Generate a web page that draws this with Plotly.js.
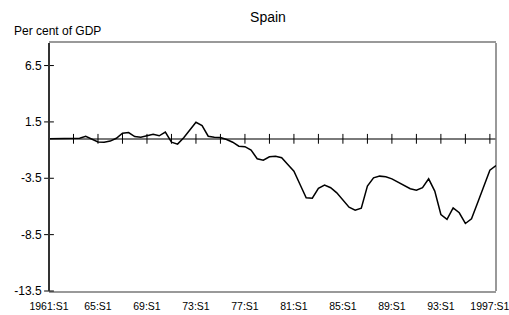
<!DOCTYPE html>
<html>
<head>
<meta charset="utf-8">
<script src="https://cdn.plot.ly/plotly-3.0.1.min.js"></script>
<style>html,body{margin:0;padding:0;background:#fff;}#chart{width:509px;height:315px;}</style>
</head>
<body>
<div id="chart"></div>
<script>
// Half-year periods 1961:S1 .. 1997:S2 (index 0..73)
const periodIndex = Array.from({length: 74}, (_, i) => i);
const balance = [
  0, 0, 0, 0, 0, 0.05, 0.23, 0.0, -0.28, -0.3,
  -0.2, 0.05, 0.5, 0.55, 0.2, 0.15, 0.27, 0.4, 0.27, 0.6,
  -0.3, -0.47, 0.1, 0.8, 1.47, 1.18, 0.23, 0.15, 0.12, -0.06,
  -0.3, -0.65, -0.7, -1.0, -1.77, -1.9, -1.6, -1.54, -1.68, -2.28,
  -2.87, -4.05, -5.23, -5.27, -4.4, -4.11, -4.34, -4.79, -5.38, -6.06,
  -6.33, -6.15, -4.2, -3.46, -3.31, -3.37, -3.55, -3.85, -4.14, -4.43,
  -4.56, -4.34, -3.55, -4.64, -6.71, -7.15, -6.12, -6.56, -7.51, -7.09,
  -5.67, -4.2, -2.78, -2.37
];
const labelIndex = [0, 8, 16, 24, 32, 40, 48, 56, 64, 72];
const labelText = ["1961:S1", "65:S1", "69:S1", "73:S1", "77:S1", "81:S1", "85:S1", "89:S1", "93:S1", "1997:S1"];
const tickIndex = [0, 4, 8, 12, 16, 20, 24, 28, 32, 36, 40, 44, 48, 52, 56, 60, 64, 68, 72];
const yTicks = [6.5, 1.5, -3.5, -8.5, -13.5];
const yRange = [-13.5, 8.5];
const xRange = [0, 73];

const font = 'Arial, "Liberation Sans", sans-serif';

const traces = [
  // tick marks crossing the zero line (category ticks)
  {x: tickIndex, y: tickIndex.map(() => 0), type: 'scatter', mode: 'markers', cliponaxis: false,
   marker: {symbol: 'line-ns', size: 7, color: '#000000', line: {color: '#000000', width: 1}},
   hoverinfo: 'skip', showlegend: false},
  // tick marks crossing the value axis
  {x: yTicks.map(() => xRange[0]), y: yTicks, type: 'scatter', mode: 'markers', cliponaxis: false,
   marker: {symbol: 'line-ew', size: 7, color: '#000000', line: {color: '#000000', width: 1}},
   hoverinfo: 'skip', showlegend: false},
  {x: periodIndex, y: balance, type: 'scatter', mode: 'lines', cliponaxis: false,
   line: {color: '#000000', width: 1.5}, hoverinfo: 'skip', showlegend: false}
];

const layout = {
  width: 509, height: 315,
  margin: {l: 49, r: 13, t: 43, b: 24, pad: 0},
  paper_bgcolor: '#ffffff', plot_bgcolor: '#ffffff',
  font: {family: font, color: '#000000'},
  title: {text: 'Spain', font: {family: font, size: 14, color: '#000000'},
          x: 268/509, xanchor: 'center', xref: 'container', y: 1 - 17/315, yanchor: 'middle', yref: 'container'},
  xaxis: {range: xRange, showgrid: false, zeroline: false,
          tickmode: 'array', tickvals: labelIndex, ticktext: labelText,
          ticks: 'outside', ticklen: 4, tickcolor: 'rgba(0,0,0,0)',
          ticklabeloverflow: 'allow',
          tickfont: {family: font, size: 10.5, color: '#000000'},
          showline: true, linecolor: '#999999', linewidth: 2, mirror: true, layer: 'below traces'},
  yaxis: {range: yRange, showgrid: false,
          zeroline: true, zerolinecolor: '#7a7a7a', zerolinewidth: 2,
          tickmode: 'array', tickvals: yTicks, ticktext: yTicks.map(v => v.toFixed(1)),
          ticks: 'outside', ticklen: 4, tickcolor: 'rgba(0,0,0,0)',
          tickfont: {family: font, size: 12, color: '#000000'},
          showline: false},
  shapes: [
    {type: 'line', xref: 'paper', yref: 'paper', x0: 1, x1: 1, y0: 0, y1: 1,
     line: {color: '#999999', width: 2}, layer: 'below'},
    {type: 'line', xref: 'paper', yref: 'paper', x0: 0, x1: 0, y0: 0, y1: 1,
     line: {color: '#333333', width: 2}, layer: 'above'}
  ],
  annotations: [
    {text: 'Per cent of GDP', xref: 'paper', yref: 'paper', x: (12 - 49) / 447, xanchor: 'left',
     y: 1 + (43 - 31) / 248, yanchor: 'middle', showarrow: false,
     font: {family: font, size: 12, color: '#000000'}}
  ],
  showlegend: false
};

Plotly.newPlot('chart', traces, layout, {staticPlot: true, displayModeBar: false});
</script>
</body>
</html>
